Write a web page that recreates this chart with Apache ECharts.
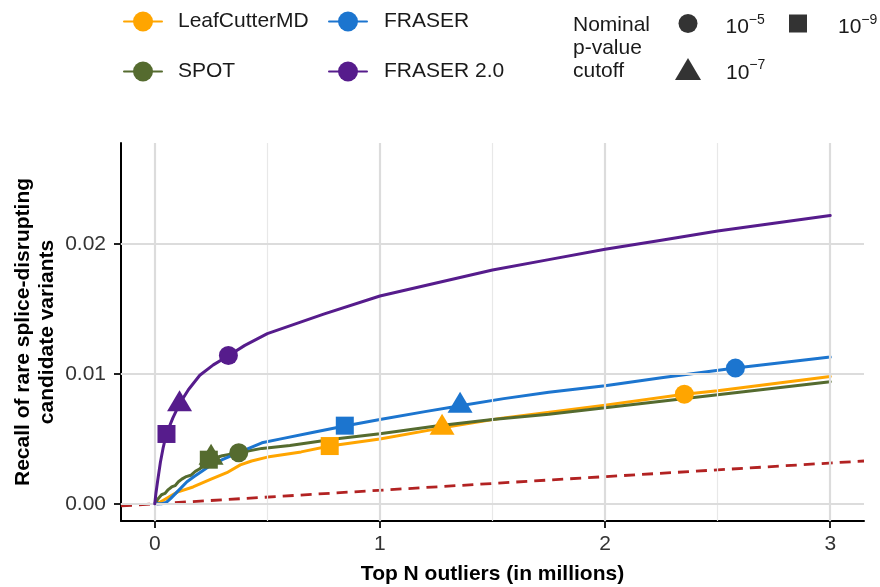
<!DOCTYPE html>
<html><head><meta charset="utf-8">
<script src="https://cdn.jsdelivr.net/npm/echarts@6/dist/echarts.min.js"></script>
<style>html,body{margin:0;padding:0;background:#fff}#c{width:880px;height:587px}</style>
</head><body><div id="c"></div>
<script>
// ---- data (x in millions of top outliers, y = recall) ----
const methods = ['LeafCutterMD', 'FRASER', 'SPOT', 'FRASER 2.0'];

const leafX = [0, 0.02, 0.04, 0.1, 0.17, 0.25, 0.32, 0.38, 0.43, 0.5, 0.65, 0.777, 1, 1.276, 1.542, 2, 2.352, 2.5, 3];
const leafY = [0, 0.0001, 0.0003, 0.0009, 0.0013, 0.0019, 0.0024, 0.0030, 0.0033, 0.0036, 0.0040, 0.00445, 0.0050, 0.00585, 0.0066, 0.0076, 0.00844, 0.0087, 0.0098];

const fraserX = [0, 0.03, 0.05, 0.07, 0.107, 0.143, 0.175, 0.234, 0.3, 0.38, 0.476, 0.56, 0.7, 0.844, 1, 1.2, 1.356, 1.55, 1.75, 2, 2.25, 2.579, 2.8, 3];
const fraserY = [0, 0, 0.0001, 0.0004, 0.00106, 0.0017, 0.0021, 0.0028, 0.0034, 0.0040, 0.0047, 0.0050, 0.0055, 0.0060, 0.0065, 0.0071, 0.00755, 0.0081, 0.0086, 0.0091, 0.0097, 0.01045, 0.0109, 0.0113];

const spotX = [0, 0.015, 0.03, 0.045, 0.06, 0.075, 0.09, 0.105, 0.12, 0.14, 0.16, 0.18, 0.2, 0.22, 0.24, 0.3, 0.373, 0.476, 0.6, 0.8, 1, 1.25, 1.5, 1.75, 2, 2.25, 2.5, 2.75, 3];
const spotY = [0, 0.0004, 0.0007, 0.0008, 0.0011, 0.0013, 0.0014, 0.0017, 0.0019, 0.0021, 0.0022, 0.0025, 0.0027, 0.0030, 0.0034, 0.0037, 0.00394, 0.00427, 0.0045, 0.0050, 0.0054, 0.0060, 0.0065, 0.0069, 0.0074, 0.0079, 0.0084, 0.0089, 0.0094];

const fraser2X = [0, 0.005, 0.013, 0.025, 0.037, 0.052, 0.08, 0.11, 0.15, 0.2, 0.26, 0.327, 0.4, 0.5, 0.75, 1, 1.25, 1.5, 1.75, 2, 2.25, 2.5, 2.75, 3];
const fraser2Y = [0, 0.0008, 0.0018, 0.0032, 0.0043, 0.0054, 0.0066, 0.0077, 0.0088, 0.0099, 0.0107, 0.0114, 0.0122, 0.0131, 0.0146, 0.0160, 0.0170, 0.0180, 0.0188, 0.0196, 0.0203, 0.0210, 0.0216, 0.0222];

// random expectation (dashed)
const randX = [-0.15, 3.15];
const randY = [-0.00016, 0.0033];

// nominal p-value cutoff markers: order 1e-5, 1e-7, 1e-9
const cutoffNames = ['c5', 'c7', 'c9'];
const cutoffExp = ['\u22125', '\u22127', '\u22129'];
const leafMX = [2.352, 1.276, 0.777];   const leafMY = [0.00844, 0.00585, 0.00445];
const fraserMX = [2.579, 1.356, 0.844]; const fraserMY = [0.01045, 0.00755, 0.00602];
const spotMX = [0.373, 0.25, 0.24];     const spotMY = [0.00394, 0.00355, 0.0034];
const fraser2MX = [0.327, 0.11, 0.052]; const fraser2MY = [0.01142, 0.00766, 0.00538];

// axis ticks
const xTicks = [0, 1, 2, 3];
const xMinor = [0.5, 1.5, 2.5];
const yTicks = [0, 0.01, 0.02];
const yMinor = [0.005, 0.015, 0.025];

// ---- styling ----
const FONT = 'Liberation Sans, Arial, Helvetica, sans-serif';
const colors = {'LeafCutterMD': '#FFA500', 'FRASER': '#1C75CF', 'SPOT': '#556B2F', 'FRASER 2.0': '#561C8C'};
const shapeSym = ['circle', 'triangle', 'rect'];
const shapeSize = [19, [25, 21], 18];
const shapeOff = [[0, 0], [0, -3.5], [0, 0]];

function pairs(xs, ys) { return xs.map((x, i) => [x, ys[i]]); }

function lineSeries(name, xs, ys, z) {
  return {
    name: name, type: 'line', data: pairs(xs, ys), symbol: 'none', smooth: false,
    lineStyle: {color: colors[name], width: 3, join: 'round', cap: 'round'}, itemStyle: {color: colors[name]},
    z: z, silent: true
  };
}
function markerSeries(name, xs, ys) {
  return {
    name: name + ' cut', type: 'scatter', z: 10, silent: true,
    itemStyle: {color: colors[name], opacity: 1},
    data: xs.map((x, i) => ({value: [x, ys[i]], symbol: shapeSym[i], symbolSize: shapeSize[i], symbolOffset: shapeOff[i]}))
  };
}

const gridLineData = [];
xMinor.forEach(v => gridLineData.push({xAxis: v, lineStyle: {color: '#e8e8e8', width: 1.2, type: 'solid'}}));
yMinor.forEach(v => gridLineData.push({yAxis: v, lineStyle: {color: '#e8e8e8', width: 1.2, type: 'solid'}}));
xTicks.forEach(v => gridLineData.push({xAxis: v, lineStyle: {color: '#dcdcdc', width: 2.2, type: 'solid'}}));
yTicks.forEach(v => gridLineData.push({yAxis: v, lineStyle: {color: '#dcdcdc', width: 2.2, type: 'solid'}}));

const series = [
  {name: 'grid', type: 'line', data: [], z: 0, silent: true,
   markLine: {silent: true, symbol: ['none', 'none'], label: {show: false}, animation: false, data: gridLineData}},
  {name: 'random', type: 'line', data: pairs(randX, randY), symbol: 'none', z: 1, silent: true,
   lineStyle: {color: '#B22222', width: 2.8, type: [11, 7]}},
  lineSeries('LeafCutterMD', leafX, leafY, 2),
  lineSeries('SPOT', spotX, spotY, 3),
  lineSeries('FRASER', fraserX, fraserY, 4),
  lineSeries('FRASER 2.0', fraser2X, fraser2Y, 5),
  markerSeries('LeafCutterMD', leafMX, leafMY),
  markerSeries('SPOT', spotMX, spotMY),
  markerSeries('FRASER', fraserMX, fraserMY),
  markerSeries('FRASER 2.0', fraser2MX, fraser2MY)
];
cutoffNames.forEach((n, i) => series.push({name: n, type: 'scatter', data: [], symbol: shapeSym[i], itemStyle: {color: '#000'}}));

const legendText = {fontFamily: FONT, fontSize: 21, color: '#1a1a1a'};
const supRich = {
  b: {fontFamily: FONT, fontSize: 21, lineHeight: 21, color: '#1a1a1a', padding: [8, 0, 0, 0]},
  s: {fontFamily: FONT, fontSize: 14, lineHeight: 14, color: '#1a1a1a', padding: [4, 0, 11, 0]}
};
function supFmt(name) { return '{b|10}{s|' + cutoffExp[cutoffNames.indexOf(name)] + '}'; }

const option = {
  animation: false,
  backgroundColor: '#ffffff',
  title: {text: 'Nominal\np-value\ncutoff', left: 573, top: 14, padding: 0,
          textStyle: {fontFamily: FONT, fontSize: 21, fontWeight: 'normal', lineHeight: 23, color: '#1a1a1a'}},
  grid: {left: 121, right: 16, top: 143, bottom: 66, containLabel: false, outerBoundsMode: 'none'},
  legend: [
    {data: ['LeafCutterMD', 'SPOT'], orient: 'vertical', left: 123, top: 11, padding: 0, itemWidth: 38, itemHeight: 25, itemGap: 29,
     selectedMode: false, textStyle: Object.assign({padding: [0, 0, 0, 11]}, legendText)},
    {data: ['FRASER', 'FRASER 2.0'], orient: 'vertical', left: 328, top: 11, padding: 0, itemWidth: 38, itemHeight: 25, itemGap: 29,
     selectedMode: false, textStyle: Object.assign({padding: [0, 0, 0, 12]}, legendText)},
    {data: ['c5'], left: 678.5, top: 9, padding: 0, itemWidth: 19, itemHeight: 19, selectedMode: false,
     formatter: supFmt, textStyle: {padding: [0, 0, 0, 23], rich: supRich}},
    {data: ['c7'], left: 675, top: 54.5, padding: 0, itemWidth: 26, itemHeight: 22, selectedMode: false,
     formatter: supFmt, textStyle: {padding: [0, 0, 0, 20], rich: supRich}},
    {data: ['c9'], left: 789, top: 9, padding: 0, itemWidth: 18, itemHeight: 18, selectedMode: false,
     formatter: supFmt, textStyle: {padding: [0, 0, 0, 26], rich: supRich}}
  ],
  xAxis: {
    type: 'value', min: -0.15, max: 3.15,
    name: 'Top N outliers (in millions)', nameLocation: 'middle', nameGap: 43,
    nameTextStyle: {fontFamily: FONT, fontSize: 21, fontWeight: 'bold', color: '#000'},
    axisLine: {show: true, onZero: false, lineStyle: {color: '#000', width: 2}},
    axisTick: {show: true, length: 7, customValues: xTicks, lineStyle: {color: '#222', width: 2}},
    axisLabel: {customValues: xTicks, margin: 13, fontFamily: FONT, fontSize: 21, color: '#333',
                formatter: v => String(v)},
    splitLine: {show: false}
  },
  yAxis: {
    type: 'value', min: -0.00132, max: 0.02778,
    name: 'Recall of rare splice-disrupting\ncandidate variants', nameLocation: 'middle', nameRotate: 90, nameGap: 62,
    nameMoveOverlap: false,
    nameTextStyle: {fontFamily: FONT, fontSize: 21, fontWeight: 'bold', color: '#000', lineHeight: 24},
    axisLine: {show: true, onZero: false, lineStyle: {color: '#000', width: 2}},
    axisTick: {show: true, length: 7, customValues: yTicks, lineStyle: {color: '#222', width: 2}},
    axisLabel: {customValues: yTicks, margin: 15, fontFamily: FONT, fontSize: 21, color: '#333',
                formatter: v => v.toFixed(2)},
    splitLine: {show: false}
  },
  series: series
};

const chart = echarts.init(document.getElementById('c'), null, {renderer: 'canvas'});
chart.setOption(option);
</script>
</body></html>
